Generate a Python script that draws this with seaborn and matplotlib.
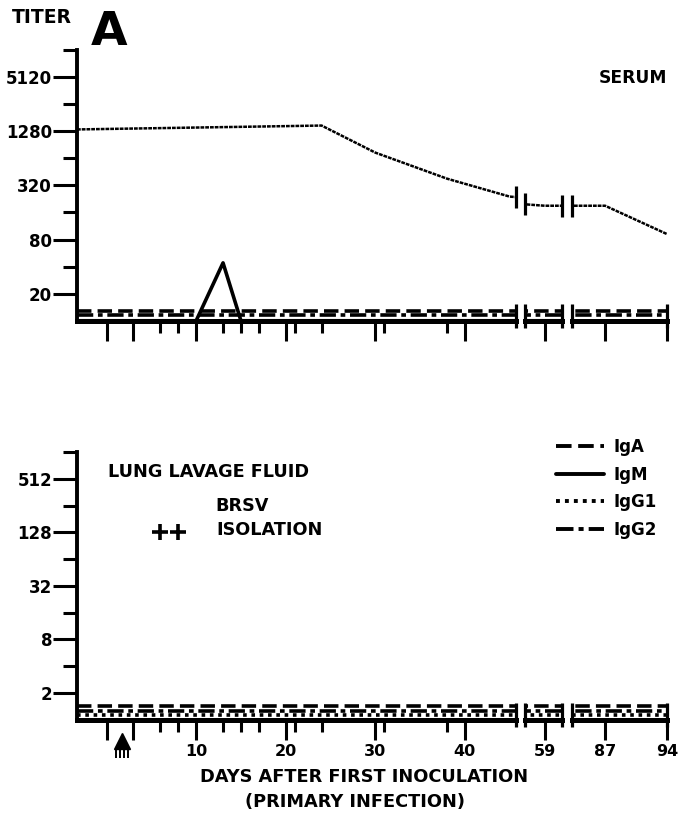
import numpy as np
import matplotlib
matplotlib.use("Agg")
import matplotlib.pyplot as plt
import seaborn as sns
from matplotlib.lines import Line2D
from matplotlib.ticker import NullFormatter, FixedLocator

# values (titers on a log2 axis, x in days)
serum_igg1_days = [-3.3, 24, 30, 38, 45, 59, 87, 94]
serum_igg1_titer = [1340, 1480, 740, 380, 240, 190, 190, 92]

serum_igm_days = [-3.3, 10, 13, 15, 94]
serum_igm_titer = [10, 10, 44, 10, 10]

serum_iga_days = [-3.3, 94]
serum_iga_titer = [13, 13]
serum_igg2_days = [-3.3, 94]
serum_igg2_titer = [11.6, 11.6]

lung_days = [-3.3, 94]
lung_iga_titer = [1.42, 1.42]
lung_igm_titer = [1.0, 1.0]
lung_igg1_titer = [1.13, 1.13]
lung_igg2_titer = [1.27, 1.27]

isolation_days = [6, 8]
isolation_titer = [128, 128]
inoculation_day = 1.7

long_tick_days = [0, 3, 10, 20, 30, 40, 59, 87, 94]
short_tick_days = [6, 8, 13, 15, 17, 21, 24, 31, 38]
labelled_days = [10, 20, 30, 40, 59, 87, 94]

serum_major = [20, 80, 320, 1280, 5120]
serum_minor = [40, 160, 640, 2560, 10240]
lung_major = [2, 8, 32, 128, 512]
lung_minor = [4, 16, 64, 256, 1024]

isotypes = ["IgA", "IgM", "IgG1", "IgG2"]
dash = {
    "IgA": (0, (4, 1.7)),
    "IgM": "-",
    "IgG1": (0, (1, 1.3)),
    "IgG2": (0, (4.5, 1.3, 1.3, 1.3)),
}

sns.set_style("ticks")
plt.rcParams["font.family"] = ["DejaVu Sans"]
plt.rcParams["font.weight"] = "bold"
plt.rcParams["font.size"] = 12
for key in ["text.color", "axes.edgecolor", "axes.labelcolor",
            "xtick.color", "ytick.color"]:
    plt.rcParams[key] = "black"

W, H = 678, 814
fig = plt.figure(figsize=(W / 100, H / 100), dpi=100)


def fx(px):
    return px / W


def fy(py):
    return 1 - py / H


# broken x axis: three pieces, pixel extents and day limits
seg_px = [(77, 516), (525, 561.5), (571.5, 667)]
seg_lims = [(-3.3, 45.7), (56.8, 60.9), (83.2, 94.0)]


def make_panel(top, bottom, ylim, major, minor, show_labels):
    axes = []
    height = bottom - top
    for i, ((x0, x1), lim) in enumerate(zip(seg_px, seg_lims)):
        ax = fig.add_axes([fx(x0), fy(bottom), (x1 - x0) / W, height / H])
        ax.set_yscale("log", base=2)
        ax.set_ylim(ylim)
        ax.set_xlim(lim)
        ax.patch.set_alpha(0)
        sns.despine(ax=ax, left=(i > 0))
        ax.spines["bottom"].set_linewidth(3.6)
        ax.spines["left"].set_linewidth(2.8)

        maj = [d for d in long_tick_days if lim[0] <= d <= lim[1]]
        mnr = [d for d in short_tick_days if lim[0] <= d <= lim[1]]
        ax.set_xticks(maj)
        ax.set_xticks(mnr, minor=True)
        ax.set_xticklabels([str(d) if d in labelled_days else "" for d in maj])
        ax.tick_params(axis="x", which="major", length=14.5, width=2.2,
                       pad=3, labelsize=11.5, labelbottom=show_labels)
        ax.tick_params(axis="x", which="minor", length=8.5, width=2.2)

        if i == 0:
            ax.yaxis.set_major_locator(FixedLocator(major))
            ax.yaxis.set_minor_locator(FixedLocator(minor))
            ax.set_yticklabels([str(v) for v in major])
            ax.yaxis.set_minor_formatter(NullFormatter())
            ax.tick_params(axis="y", which="major", length=17, width=2.2,
                           pad=1, labelsize=12)
            ax.tick_params(axis="y", which="minor", length=10, width=2.2)
        else:
            ax.tick_params(axis="y", which="both", left=False, labelleft=False)

        # break bars on the axis line
        edges = []
        if i > 0:
            edges.append(lim[0])
        edges.append(lim[1])
        up = 17 / height
        down = 7 / height
        for e in edges:
            ax.plot([e, e], [-down, up], transform=ax.get_xaxis_transform(),
                    color="k", lw=2.3, clip_on=False, solid_capstyle="butt")
        axes.append(ax)
    return axes


def draw_line(ax, days, titer, style, lw=2.6):
    sns.lineplot(x=days, y=titer, ax=ax, color="k", lw=lw, linestyle=style,
                 estimator=None, sort=False, errorbar=None)


serum_axes = make_panel(50, 320.75, (10, 10240), serum_major, serum_minor, False)
lung_axes = make_panel(452, 719.75, (1, 1024), lung_major, lung_minor, True)

for ax in serum_axes:
    draw_line(ax, serum_iga_days, serum_iga_titer, dash["IgA"])
    draw_line(ax, serum_igg2_days, serum_igg2_titer, dash["IgG2"])
    draw_line(ax, serum_igm_days, serum_igm_titer, dash["IgM"], lw=2.6)
    draw_line(ax, serum_igg1_days, serum_igg1_titer, (0, (1.5, 0.4)), lw=1.8)

# break bars on the serum IgG1 curve
log_t = np.log2(serum_igg1_titer)
for i, ax in enumerate(serum_axes):
    lim = seg_lims[i]
    edges = [lim[0]] if i == 2 else ([lim[1]] if i == 0 else [lim[0], lim[1]])
    for e in edges:
        ax.plot([e], [2 ** np.interp(e, serum_igg1_days, log_t)], marker="|",
                ms=16, mew=2.3, color="k", clip_on=False)

for ax in lung_axes:
    draw_line(ax, lung_days, lung_iga_titer, dash["IgA"])
    draw_line(ax, lung_days, lung_igg2_titer, dash["IgG2"])
    draw_line(ax, lung_days, lung_igg1_titer, dash["IgG1"])
    draw_line(ax, lung_days, lung_igm_titer, dash["IgM"])

lax = lung_axes[0]
sns.scatterplot(x=isolation_days, y=isolation_titer, ax=lax, marker="+",
                s=130, color="k", linewidth=2.6)

# inoculation arrow below the day axis
ht = 719.75 - 452
lax.plot([inoculation_day], [-21 / ht], marker="^", ms=12, color="k",
         transform=lax.get_xaxis_transform(), clip_on=False)
for off in [-0.7, -0.23, 0.23, 0.7]:
    lax.plot([inoculation_day + off] * 2, [-27 / ht, -38 / ht], color="k",
             lw=1.4, transform=lax.get_xaxis_transform(), clip_on=False,
             solid_capstyle="butt")

handles = [Line2D([], [], color="k", lw=2.8, linestyle=dash[k]) for k in isotypes]
fig.legend(handles, isotypes, loc="upper left",
           bbox_to_anchor=(fx(556), fy(438)), frameon=False,
           handlelength=2.9, handletextpad=0.55, labelspacing=0.58,
           borderpad=0, borderaxespad=0, prop={"weight": "bold", "size": 12})

fig.text(fx(12), fy(23), "TITER", fontsize=13.5, fontweight="bold")
fig.text(fx(91), fy(45), "A", fontsize=34, fontweight="heavy")
fig.text(fx(667), fy(83), "SERUM", fontsize=12.3, ha="right")
fig.text(fx(108), fy(477), "LUNG LAVAGE FLUID", fontsize=12.7)
fig.text(fx(215), fy(511), "BRSV", fontsize=12.7)
fig.text(fx(216), fy(535), "ISOLATION", fontsize=12.7)
fig.text(fx(364), fy(782), "DAYS AFTER FIRST INOCULATION", fontsize=12.8,
         ha="center")
fig.text(fx(355), fy(807), "(PRIMARY INFECTION)", fontsize=12.8, ha="center")

fig.savefig("out.png", dpi=100)
